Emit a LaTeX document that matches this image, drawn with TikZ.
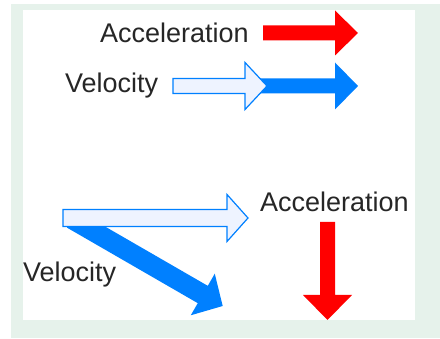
\documentclass[tikz,border=0pt]{standalone}
\usepackage{fontspec}
\setmainfont{Liberation Sans}
\usepackage{tikz}
\usetikzlibrary{positioning}
\definecolor{framegreen}{HTML}{E6F2EB}
\definecolor{velblue}{HTML}{0080FF}
\definecolor{vellight}{HTML}{EEF3FF}
\definecolor{accred}{HTML}{FF0000}
\definecolor{txtgray}{HTML}{262626}
% fat arrow: [style]{start}{angle}{length}{body half}{head half}{head length}
\newcommand\fatarrow[7][]{%
  \path[#1, shift={#2}, rotate=#3]
    (0,-#5) -- ({#4-#7},-#5) -- ({#4-#7},-#6) -- (#4,0)
    -- ({#4-#7},#6) -- ({#4-#7},#5) -- (0,#5) -- cycle;}

\begin{document}
\begin{tikzpicture}[
    x=1pt, y=1pt,
    every node/.append style={font=\fontsize{27}{30}\selectfont, text=txtgray},
    lbl/.style={inner sep=0pt, anchor=base west},
    accfill/.style={fill=accred},
    velfill/.style={fill=velblue},
    velout/.style={fill=vellight, draw=velblue, line width=1.2pt, line join=miter},
  ]
  \useasboundingbox (0,0) rectangle (440,339);
  \fill[framegreen] (11,1) rectangle (440,335);
  \fill[white] (23,19) rectangle (415,329);

  % upper pair: same direction
  \node[lbl] (acctop) at (100,296) {Acceleration};
  \node[lbl] (veltop) at (65,246) {Velocity};
  \fatarrow[accfill]{(263,306)}{0}{95}{7.5}{22.5}{23}
  \fatarrow[velfill]{(258,253)}{0}{100}{7.5}{23.5}{23}
  \fatarrow[velout]{(173,253)}{0}{94}{7.5}{23.5}{22}

  % lower pair: acceleration at right angle
  \node[lbl] (accbot) at (260,127) {Acceleration};
  \node[lbl] (velbot) at (23,57) {Velocity};
  \fatarrow[accfill]{(327.5,117)}{-90}{98}{7.5}{24.5}{25}
  \fatarrow[velfill]{(72,120)}{-30}{174}{10}{24}{23}
  \fatarrow[velout]{(63,121)}{0}{185}{8.5}{23.5}{21}
\end{tikzpicture}
\end{document}
